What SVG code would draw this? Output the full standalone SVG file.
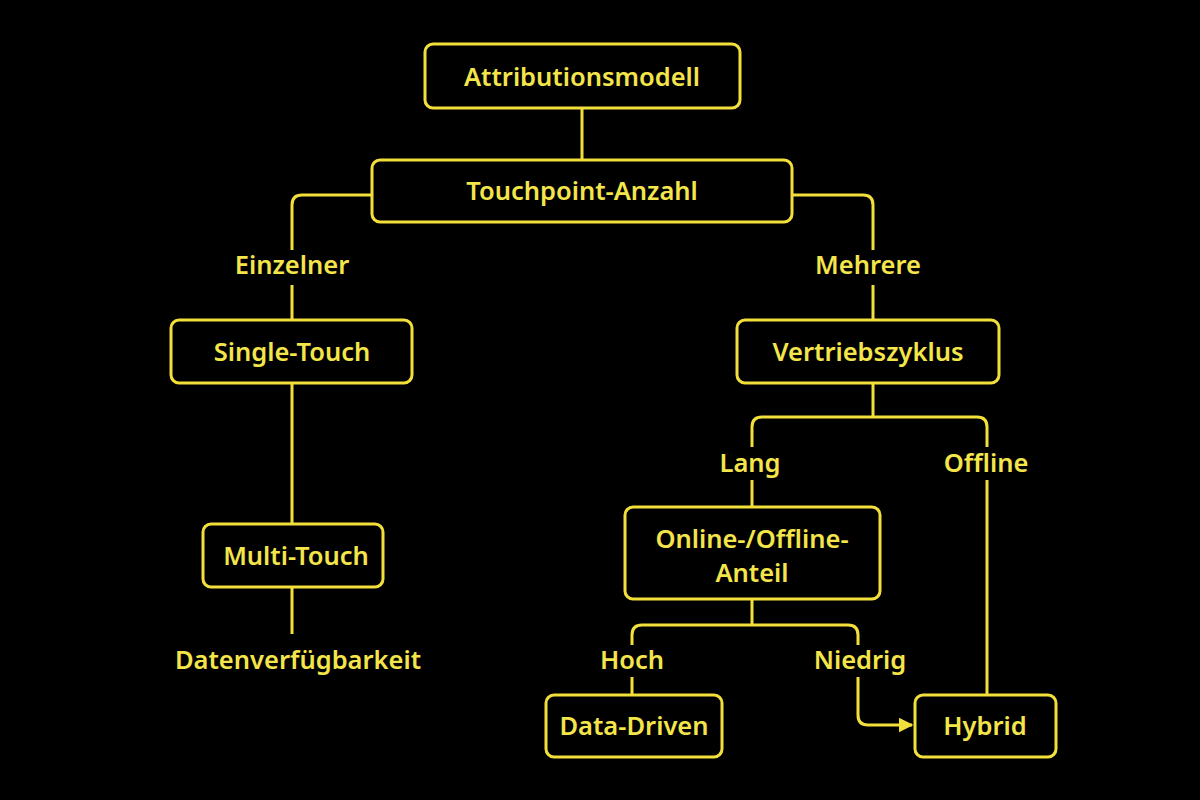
<svg xmlns="http://www.w3.org/2000/svg" width="1200" height="800" viewBox="0 0 1200 800">
<defs>
<style>
.n{fill:#000;stroke:#F2DF3A;stroke-width:3}
.t{fill:#F4E54A;font-family:"Noto Sans","DejaVu Sans",sans-serif;font-weight:600;font-size:25.5px;text-anchor:middle;dominant-baseline:central}
.c{fill:none;stroke:#F2DF3A;stroke-width:3}
</style>
<marker id="a" viewBox="0 0 10 10" refX="9" refY="5" markerWidth="5" markerHeight="5" orient="auto"><path d="M0,0L10,5L0,10z" fill="#F2DF3A"/></marker>
</defs>
<rect width="1200" height="800" fill="#000"/>
<g id="connectors">
<path class="c" d="M582,108V160"/>
<path class="c" d="M372,195H302Q292,195 292,205V250M292,285V320"/>
<path class="c" d="M792,195H863Q873,195 873,205V250M873,285V320"/>
<path class="c" d="M292,383V524"/>
<path class="c" d="M292,587V634"/>
<path class="c" d="M873,383V417"/>
<path class="c" d="M752,447V427Q752,417 762,417H977Q987,417 987,427V447"/>
<path class="c" d="M752,480V507"/>
<path class="c" d="M987,480V695"/>
<path class="c" d="M752,599V625"/>
<path class="c" d="M632,645V635Q632,625 642,625H848Q858,625 858,635V645"/>
<path class="c" d="M632,677V695"/>
<path class="c" d="M858,677V715Q858,725 868,725H912" marker-end="url(#a)"/>
<text class="t" x="292" y="264">Einzelner</text>
<text class="t" x="868" y="264">Mehrere</text>
<text class="t" x="750" y="462">Lang</text>
<text class="t" x="986" y="462">Offline</text>
<text class="t" x="632" y="659">Hoch</text>
<text class="t" x="860" y="659">Niedrig</text>
<text class="t" x="298" y="659">Datenverfügbarkeit</text>
</g>
<g id="n1"><rect class="n" x="425" y="44" width="315" height="64" rx="8"/><text class="t" x="582" y="76">Attributionsmodell</text></g>
<g id="n2"><rect class="n" x="372" y="160" width="420" height="62" rx="8"/><text class="t" x="582" y="190">Touchpoint-Anzahl</text></g>
<g id="n3"><rect class="n" x="171" y="320" width="241" height="63" rx="8"/><text class="t" x="292" y="351">Single-Touch</text></g>
<g id="n4"><rect class="n" x="737" y="320" width="262" height="63" rx="8"/><text class="t" x="868" y="351">Vertriebszyklus</text></g>
<g id="n5"><rect class="n" x="203" y="524" width="180" height="63" rx="8"/><text class="t" x="296" y="555">Multi-Touch</text></g>
<g id="n6"><rect class="n" x="625" y="507" width="255" height="92" rx="8"/><text class="t" x="752" y="538">Online-/Offline-</text><text class="t" x="752" y="572">Anteil</text></g>
<g id="n7"><rect class="n" x="546" y="695" width="176" height="62" rx="8"/><text class="t" x="634" y="725">Data-Driven</text></g>
<g id="n8"><rect class="n" x="915" y="695" width="141" height="62" rx="8"/><text class="t" x="985" y="725">Hybrid</text></g>
</svg>
